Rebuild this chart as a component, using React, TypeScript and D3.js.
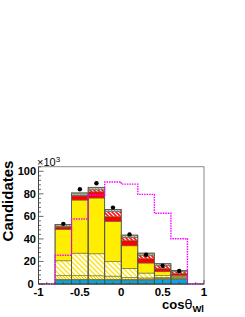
import { useEffect, useRef } from 'react'
import * as d3 from 'd3'

// bin centres of cos(theta_Wl), width 0.2
const binCenters = [-0.7, -0.5, -0.3, -0.1, 0.1, 0.3, 0.5, 0.7]
// stacked components (x10^3 candidates), bottom to top
const cyanBkg = [3.6, 3.7, 3.7, 3.6, 3.5, 3.4, 3.9, 4.3]
const grayBkg = [0.5, 0.5, 0.5, 0.6, 0.7, 0.9, 1.2, 0.8]
const yellowThin = [3.3, 3.2, 3.1, 2.8, 1.6, 1.1, 0.7, 0.6]
const yellowHatch = [13.2, 20.0, 19.5, 12.8, 8.1, 4.3, 1.6, 0.9]
const yellowSolid = [27.9, 47.1, 49.5, 35.8, 20.0, 8.9, 3.5, 1.0]
const redSolid = [2.1, 3.7, 5.5, 4.2, 4.7, 4.0, 2.9, 1.6]
const redHatch = [0.7, 0.6, 1.8, 4.4, 2.8, 3.0, 2.5, 1.7]
const grayTop = [1.5, 2.0, 2.2, 2.0, 2.0, 1.8, 1.7, 1.2]
// data points
const dataValues = [53.4, 84.1, 89.4, 67.8, 44.0, 26.0, 16.2, 11.5]
// dotted magenta shape, bins of 0.2 from -1 to 1
const shapeEdges = [-1, -0.8, -0.6, -0.4, -0.2, 0, 0.2, 0.4, 0.6, 0.8, 1]
const shapeValues = [0, 25.5, 57.7, 79, 90.5, 88.6, 79.5, 62.8, 40.2, 0]

const xTicks = [-1, -0.5, 0, 0.5, 1]
const yTicks = [0, 20, 40, 60, 80, 100]

const layerKeys = ['cyan', 'gray', 'ythin', 'yhatch', 'ysolid', 'red', 'rhatch', 'gtop']
const layerFill: Record<string, string> = {
  cyan: '#00a6e6',
  gray: '#8a8a8a',
  ythin: 'url(#yThinPat)',
  yhatch: 'url(#yHatchPat)',
  ysolid: '#ffee00',
  red: '#ff0000',
  rhatch: 'url(#rHatchPat)',
  gtop: 'url(#gPat)',
}

export default function App() {
  const svgRef = useRef<SVGSVGElement>(null)
  const width = 245
  const height = 317

  useEffect(() => {
    const svg = d3.select(svgRef.current)
    svg.selectAll('*').remove()

    const x = d3.scaleLinear().domain([-1, 1]).range([38.5, 204])
    const y = d3.scaleLinear().domain([0, 104.1]).range([284, 166.7])
    const half = 0.1

    const defs = svg.append('defs')
    const hatch = (id: string, bg: string, fg: string, size: number, sw: number) => {
      const p = defs.append('pattern').attr('id', id).attr('patternUnits', 'userSpaceOnUse')
        .attr('width', size).attr('height', size)
      p.append('rect').attr('width', size).attr('height', size).attr('fill', bg)
      p.append('path').attr('d', `M0,0 L${size},${size} M${-size},0 L${size},${2 * size} M0,${-size} L${2 * size},${size}`)
        .attr('stroke', fg).attr('stroke-width', sw)
    }
    hatch('yHatchPat', '#ffffff', '#ffe200', 5, 1.3)
    hatch('yThinPat', '#fff6a0', '#e8cc00', 3, 1)
    hatch('rHatchPat', '#ffffff', '#ff1010', 4, 1.6)
    hatch('gPat', '#d8d8d8', '#8c8c8c', 3, 1.2)

    const table = binCenters.map((c, i) => ({
      c,
      cyan: cyanBkg[i], gray: grayBkg[i], ythin: yellowThin[i], yhatch: yellowHatch[i],
      ysolid: yellowSolid[i], red: redSolid[i], rhatch: redHatch[i], gtop: grayTop[i],
    }))
    const stacked = d3.stack<any>().keys(layerKeys)(table)

    // frame
    svg.append('rect')
      .attr('x', x(-1)).attr('y', y(104.1))
      .attr('width', x(1) - x(-1)).attr('height', y(0) - y(104.1))
      .attr('fill', 'white').attr('stroke', '#8a8a8a').attr('stroke-width', 1)

    svg.append('g').selectAll('g')
      .data(stacked)
      .enter().append('g')
      .attr('fill', d => layerFill[d.key])
      .selectAll('rect')
      .data(d => d)
      .enter().append('rect')
      .attr('x', d => x(d.data.c - half))
      .attr('width', d => x(d.data.c + half) - x(d.data.c - half))
      .attr('y', d => y(d[1]))
      .attr('height', d => y(d[0]) - y(d[1]))
      .attr('stroke', '#6b6b3a').attr('stroke-width', 0.6)

    // outline of each bin
    svg.append('g').selectAll('rect')
      .data(table)
      .enter().append('rect')
      .attr('x', d => x(d.c - half))
      .attr('width', d => x(d.c + half) - x(d.c - half))
      .attr('y', (d, i) => y(stacked[stacked.length - 1][i][1]))
      .attr('height', (d, i) => y(0) - y(stacked[stacked.length - 1][i][1]))
      .attr('fill', 'none').attr('stroke', '#555').attr('stroke-width', 0.8)

    // magenta dotted shape
    const pts: [number, number][] = []
    shapeValues.forEach((v, i) => {
      pts.push([shapeEdges[i], v])
      pts.push([shapeEdges[i + 1], v])
    })
    svg.append('path')
      .attr('d', d3.line<[number, number]>().x(d => x(d[0])).y(d => y(d[1]))(pts))
      .attr('fill', 'none').attr('stroke', '#ff00ff').attr('stroke-width', 1.4)
      .attr('stroke-dasharray', '1.5,1')

    // data points
    svg.append('g').selectAll('circle')
      .data(dataValues)
      .enter().append('circle')
      .attr('cx', (d, i) => x(binCenters[i]))
      .attr('cy', d => y(d))
      .attr('r', 2.2).attr('fill', 'black')

    // axes
    const axisColor = '#444'
    svg.append('line').attr('x1', x(-1)).attr('x2', x(-1)).attr('y1', y(0)).attr('y2', y(104.1))
      .attr('stroke', axisColor)
    svg.append('line').attr('x1', x(-1)).attr('x2', x(1)).attr('y1', y(0)).attr('y2', y(0))
      .attr('stroke', axisColor)

    const yMinor = d3.range(0, 104.1, 4)
    svg.append('g').selectAll('line').data(yMinor).enter().append('line')
      .attr('x1', x(-1)).attr('x2', d => x(-1) + (d % 20 === 0 ? 5 : 2.5))
      .attr('y1', d => y(d)).attr('y2', d => y(d))
      .attr('stroke', axisColor).attr('stroke-width', 0.8)

    const xMinor = d3.range(-1, 1.0001, 0.1)
    svg.append('g').selectAll('line').data(xMinor).enter().append('line')
      .attr('x1', d => x(d)).attr('x2', d => x(d))
      .attr('y1', y(0)).attr('y2', (d, i) => y(0) - (i % 5 === 0 ? 4 : 2))
      .attr('stroke', axisColor).attr('stroke-width', 0.8)

    const font = 'Liberation Sans, Arial, Helvetica, sans-serif'
    svg.append('g').selectAll('text').data(yTicks).enter().append('text')
      .attr('x', d => (d === 0 ? 33.5 : 36))
      .attr('y', d => y(d) + 4)
      .attr('text-anchor', 'end')
      .attr('font-family', font).attr('font-weight', 'bold').attr('font-size', 11)
      .text(d => d)

    svg.append('g').selectAll('text').data(xTicks).enter().append('text')
      .attr('x', d => x(d))
      .attr('y', 296)
      .attr('text-anchor', 'middle')
      .attr('font-family', font).attr('font-weight', 'bold').attr('font-size', 11.5)
      .text(d => (d === 0 ? '0' : d3.format('')(d).replace('\u2212', '-')))

    const mult = svg.append('text').attr('x', 37).attr('y', 166)
      .attr('font-family', font).attr('font-size', 11)
    mult.append('tspan').text('\u00d710')
    mult.append('tspan').attr('dy', -4).attr('font-size', 8).text('3')

    svg.append('text')
      .attr('transform', `translate(12.5,201) rotate(-90)`)
      .attr('text-anchor', 'middle')
      .attr('font-family', font).attr('font-weight', 'bold').attr('font-size', 15)
      .text('Candidates')

    const xl = svg.append('text').attr('x', 204).attr('y', 308.5).attr('text-anchor', 'end')
      .attr('font-family', font).attr('font-weight', 'bold').attr('font-size', 13)
    xl.append('tspan').text('cos')
    xl.append('tspan').attr('font-weight', 'normal').attr('font-family', 'DejaVu Sans').attr('font-size', 13).text('\u03b8')
    xl.append('tspan').attr('dy', 3).attr('font-size', 9.5).text('Wl')
  }, [])

  return (
    <svg ref={svgRef} width={width} height={height}
      style={{ position: 'absolute', left: 0, top: 0, background: 'white' }} />
  )
}
